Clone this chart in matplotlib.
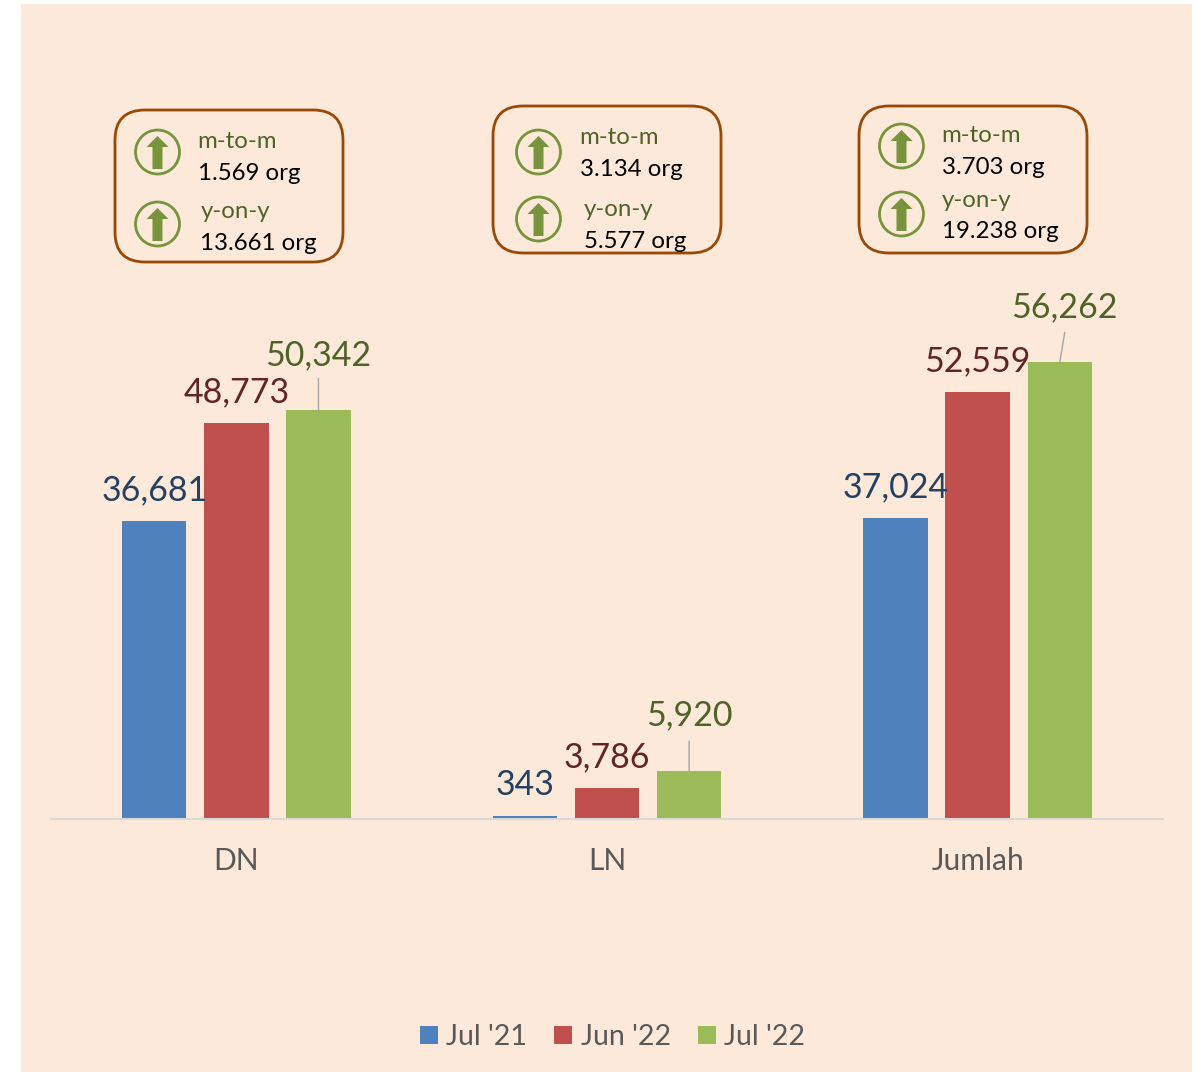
import matplotlib
matplotlib.use('Agg')
from matplotlib import pyplot as plt
from matplotlib.patches import Circle, FancyBboxPatch, Polygon, Rectangle
import numpy as np

plt.rcParams['font.family'] = ['Lato', 'DejaVu Sans']

categories = ['DN', 'LN', 'Jumlah']
series_names = ["Jul '21", "Jun '22", "Jul '22"]
jul_21 = [36681, 343, 37024]
jun_22 = [48773, 3786, 52559]
jul_22 = [50342, 5920, 56262]
box_titles = ['m-to-m', 'y-on-y']
box_mtom = ['1.569 org', '3.134 org', '3.703 org']
box_yony = ['13.661 org', '5.577 org', '19.238 org']

bar_colors = ['#4F81BD', '#C0504D', '#9BBB59']
label_colors = ['#254061', '#632523', '#4F6228']
bg = '#FDE9D9'
W, H = 1196, 1072

fig = plt.figure(figsize=(W / 100, H / 100), dpi=100, facecolor='white')

# overlay in pixel coordinates for the background and callouts
ov = fig.add_axes([0, 0, 1, 1], zorder=0)
ov.set_xlim(0, W)
ov.set_ylim(H, 0)
ov.axis('off')
ov.add_patch(Rectangle((21, 4), 1171, 1068, fc=bg, ec='none'))

ax = fig.add_axes([51 / W, 1 - 819 / H, 1112 / W, 487 / H], zorder=1)
ax.patch.set_alpha(0)
ax.set_xlim(-0.5, 2.5)
ax.set_ylim(0, 60000)
x = np.arange(3)
step = 0.2215
width = 0.174
all_series = [jul_21, jun_22, jul_22]
for i, vals in enumerate(all_series):
    pos = x + (i - 1) * step
    ax.bar(pos, vals, width, color=bar_colors[i], label=series_names[i])
    for j, (p, v) in enumerate(zip(pos, vals)):
        dx, dy = 0, 15
        if i == 2:
            dx, dy = (5, 39) if j == 2 else (0, 39.5)
        ax.annotate(f'{v:,}', (p, v), xytext=(dx * 0.72, dy * 0.72),
                    textcoords='offset points', ha='center', va='bottom',
                    fontsize=24.5, color=label_colors[i])
        if i == 2:
            # leader line from the label down to the bar
            ax.annotate('', (p, v), xytext=(dx * 0.72, 30 * 0.72 if j != 0 else 32 * 0.72),
                        textcoords='offset points',
                        arrowprops=dict(arrowstyle='-', color='#A6A6A6', lw=1, shrinkA=0, shrinkB=0))

ax.set_yticks([])
for s in ['top', 'left', 'right']:
    ax.spines[s].set_visible(False)
ax.spines['bottom'].set_color('#D9D9D9')
ax.spines['bottom'].set_linewidth(1.5)
ax.set_xticks(x)
ax.set_xticklabels(categories, fontsize=21.5, color='#595959')
ax.tick_params(axis='x', length=0, pad=20.5)

fig.legend(*ax.get_legend_handles_labels(), loc='center', ncol=3,
           bbox_to_anchor=(612.5 / W, 1 - 1037 / H), frameon=False,
           fontsize=20.5, labelcolor='#595959', handlelength=0.63, handleheight=0.63,
           handletextpad=0.3, columnspacing=0.95)


def icon(cx, cy):
    ov.add_patch(Circle((cx, cy), 22, fc='none', ec='#77933C', lw=2))
    ov.add_patch(Polygon([(cx, cy - 16), (cx + 11, cy - 5), (cx + 5, cy - 5), (cx + 5, cy + 17),
                          (cx - 5, cy + 17), (cx - 5, cy - 5), (cx - 11, cy - 5)],
                         fc='#77933C', ec='none'))


def callout(k, left, top, right, bottom, ix, iy1, iy2, tx1, tx2, ty):
    ov.add_patch(FancyBboxPatch((left + 30, top + 30), right - left - 60, bottom - top - 60,
                                boxstyle='round,pad=30,rounding_size=30',
                                fc='none', ec='#984807', lw=2))
    icon(ix, iy1)
    icon(ix, iy2)
    ov.text(tx1, ty[0], box_titles[0], fontsize=17.3, color='#4F6228', va='center')
    ov.text(tx1, ty[1], box_mtom[k], fontsize=17.3, color='black', va='center')
    ov.text(tx2, ty[2], box_titles[1], fontsize=17.3, color='#4F6228', va='center')
    ov.text(tx2, ty[3], box_yony[k], fontsize=17.3, color='black', va='center')


callout(0, 115, 110, 343, 262, 157.5, 152, 224, 197.5, 200.5, (141, 173, 211, 243))
callout(1, 493, 106, 721, 253, 538.5, 152, 219, 579.5, 584, (138, 170, 209.5, 241))
callout(2, 859, 106, 1087, 253, 901.5, 146, 214, 941.5, 941.5, (135, 167, 200.5, 232))

fig.savefig('out.png', dpi=100, facecolor='white')
